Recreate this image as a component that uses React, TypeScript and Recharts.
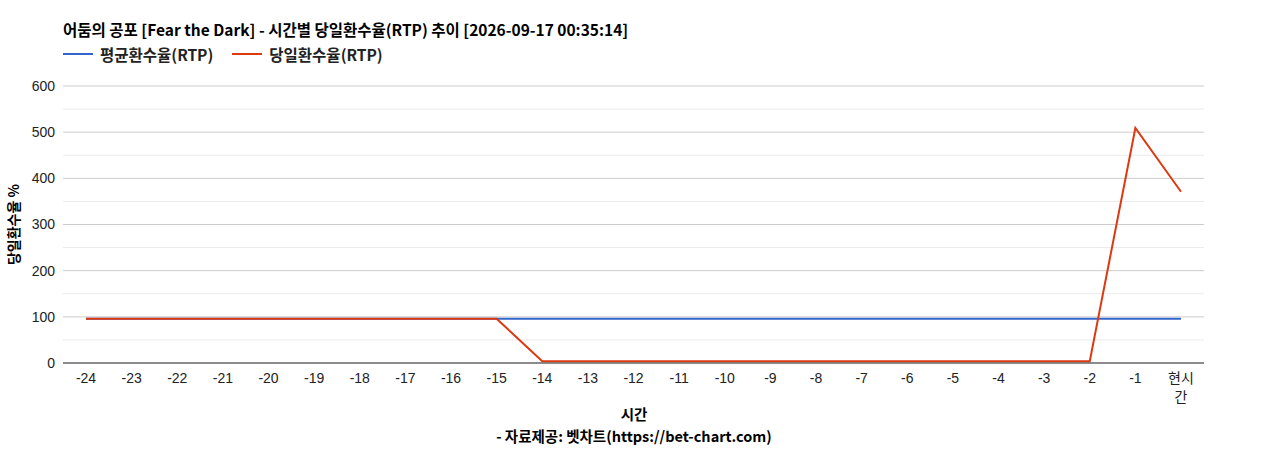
import { LineChart, Line, XAxis, YAxis, CartesianGrid, ReferenceLine, Label } from 'recharts';

const hours = [
  '-24', '-23', '-22', '-21', '-20', '-19', '-18', '-17', '-16', '-15', '-14', '-13',
  '-12', '-11', '-10', '-9', '-8', '-7', '-6', '-5', '-4', '-3', '-2', '-1', '현시간',
];
const avgRtp = [
  96, 96, 96, 96, 96, 96, 96, 96, 96, 96, 96, 96, 96,
  96, 96, 96, 96, 96, 96, 96, 96, 96, 96, 96, 96,
];
const dayRtp = [
  96, 96, 96, 96, 96, 96, 96, 96, 96, 96, 4, 4, 4,
  4, 4, 4, 4, 4, 4, 4, 4, 4, 4, 509, 371,
];
const yTicks = [0, 100, 200, 300, 400, 500, 600];
const minorTicks = [50, 150, 250, 350, 450, 550];

const FONT = '"Liberation Sans", Arial, "Noto Sans CJK KR", sans-serif';
const KFONT = '"Noto Sans CJK KR", "Noto Sans", sans-serif';
const AVG_COLOR = '#3366cc';
const DAY_COLOR = '#dc3912';

const chartData = hours.map((h, i) => ({ name: h, avg: avgRtp[i], day: dayRtp[i] }));

function HourTick({ x, y, payload }: any) {
  const v: string = payload.value;
  if (v === '현시간') {
    return (
      <text x={x} y={y} textAnchor="middle" fontSize={14} fill="#222" fontFamily={FONT}>
        <tspan x={x} dy={12}>현시</tspan>
        <tspan x={x} dy={19}>간</tspan>
      </text>
    );
  }
  return (
    <text x={x} y={y} dy={12} textAnchor="middle" fontSize={14} fill="#222" fontFamily={FONT}>
      {v}
    </text>
  );
}

function LegendItem({ color, text }: { color: string; text: string }) {
  return (
    <span style={{ display: 'inline-flex', alignItems: 'center', marginRight: 19 }}>
      <span style={{ display: 'inline-block', width: 30, height: 2, background: color, marginRight: 7 }} />
      <span>{text}</span>
    </span>
  );
}

export default function App() {
  return (
    <div style={{ position: 'absolute', left: 0, top: 0, width: 1268, height: 450, background: '#fff', fontFamily: KFONT }}>
      <div style={{ position: 'absolute', left: 63, top: 19, fontSize: 15.5, lineHeight: '20px', fontWeight: 'bold', color: '#000' }}>
        어둠의 공포 [Fear the Dark] - 시간별 당일환수율(RTP) 추이 [2026-09-17 00:35:14]
      </div>
      <div style={{ position: 'absolute', left: 63, top: 44, fontSize: 15.5, lineHeight: '20px', fontWeight: 'bold', color: '#222', display: 'flex' }}>
        <LegendItem color={AVG_COLOR} text="평균환수율(RTP)" />
        <LegendItem color={DAY_COLOR} text="당일환수율(RTP)" />
      </div>
      <LineChart width={1268} height={450} data={chartData} margin={{ top: 86, right: 64, left: 0, bottom: 47 }}>
        <CartesianGrid vertical={false} stroke="#cccccc" />
        {minorTicks.map((t) => (
          <ReferenceLine key={t} y={t} stroke="#ebebeb" />
        ))}
        <XAxis
          dataKey="name"
          tick={<HourTick />}
          tickLine={false}
          axisLine={{ stroke: '#333' }}
          interval={0}
          height={40}
          padding={{ left: 23, right: 23 }}
        />
        <YAxis
          domain={[0, 600]}
          ticks={yTicks}
          width={63}
          tickSize={0}
          tickMargin={8}
          axisLine={false}
          tick={{ fontSize: 14, fill: '#222', fontFamily: FONT }}
        >
          <Label
            value="당일환수율 %"
            angle={-90}
            position="insideLeft"
            offset={14}
            style={{ fontSize: 14, fontWeight: 'bold', fill: '#000', fontFamily: KFONT, textAnchor: 'middle' }}
          />
        </YAxis>
        <Line dataKey="avg" stroke={AVG_COLOR} strokeWidth={2} dot={false} isAnimationActive={false} />
        <Line dataKey="day" stroke={DAY_COLOR} strokeWidth={2} dot={false} isAnimationActive={false} />
      </LineChart>
      <div style={{ position: 'absolute', left: 0, width: 1268, top: 404, lineHeight: '20px', textAlign: 'center', fontSize: 14.5, fontWeight: 'bold', color: '#000' }}>
        시간
      </div>
      <div style={{ position: 'absolute', left: 0, width: 1268, top: 426, lineHeight: '20px', textAlign: 'center', fontSize: 14.5, fontWeight: 'bold', color: '#000' }}>
        - 자료제공: 벳차트(https://bet-chart.com)
      </div>
    </div>
  );
}
